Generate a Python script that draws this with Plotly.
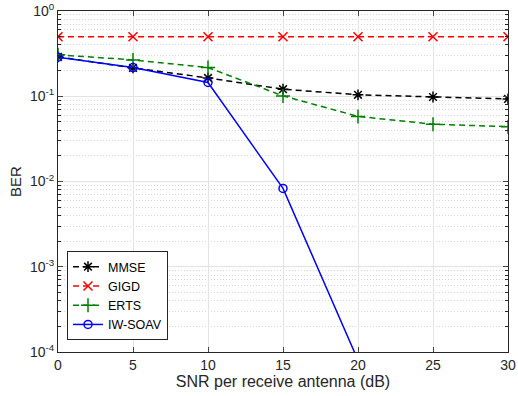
import plotly.graph_objects as go

snr = [0, 5, 10, 15, 20, 25, 30]
mmse = [0.29, 0.215, 0.164, 0.121, 0.104, 0.098, 0.093]
gigd = [0.5, 0.5, 0.5, 0.5, 0.5, 0.5, 0.5]
erts = [0.306, 0.267, 0.217, 0.101, 0.058, 0.047, 0.044]
iwsoav_x = [0, 5, 10, 15, 20]
iwsoav = [0.287, 0.217, 0.145, 0.0083, 8e-5]

ytick_vals = [1e-4, 1e-3, 1e-2, 1e-1, 1]
ytick_text = ["10<sup>-4</sup>", "10<sup>-3</sup>", "10<sup>-2</sup>", "10<sup>-1</sup>", "10<sup>0</sup>"]
xtick_vals = [0, 5, 10, 15, 20, 25, 30]
minor_y = [k * 10.0 ** e for e in range(-4, 0) for k in range(2, 10)]

fig = go.Figure()
fig.add_trace(go.Scatter(x=snr, y=mmse, name="MMSE", mode="lines+markers",
                         line=dict(color="black", width=1.5, dash="6px,4px"),
                         marker=dict(symbol="asterisk-open", size=9, line=dict(color="black", width=1.5))))
fig.add_trace(go.Scatter(x=snr, y=gigd, name="GIGD", mode="lines+markers",
                         line=dict(color="#ff0000", width=1.5, dash="6px,4px"),
                         marker=dict(symbol="x-thin-open", size=9, line=dict(color="#ff0000", width=1.5))))
fig.add_trace(go.Scatter(x=snr, y=erts, name="ERTS", mode="lines+markers",
                         line=dict(color="#008000", width=1.5, dash="6px,4px"),
                         marker=dict(symbol="cross-thin-open", size=10, line=dict(color="#008000", width=1.5))))
fig.add_trace(go.Scatter(x=iwsoav_x, y=iwsoav, name="IW-SOAV", mode="lines+markers",
                         line=dict(color="#0000ff", width=1.5),
                         marker=dict(symbol="circle-open", size=8, line=dict(color="#0000ff", width=1.5))))

axis_font = dict(family="Liberation Sans, Arial, sans-serif", size=14, color="#262626")

fig.update_layout(
    width=518, height=396,
    margin=dict(l=58, r=10, t=11, b=44, autoexpand=False),
    paper_bgcolor="white", plot_bgcolor="white",
    font=axis_font,
    showlegend=True,
    legend=dict(x=0.02, y=0.035, xanchor="left", yanchor="bottom",
                bgcolor="white", bordercolor="#262626", borderwidth=1,
                font=dict(family="Liberation Sans, Arial, sans-serif", size=12.5, color="black"),
                tracegroupgap=0, itemwidth=30),
    xaxis=dict(range=[0, 30], tickvals=xtick_vals, ticks="inside", ticklen=5,
               showline=True, mirror="ticks", linecolor="#262626", linewidth=1,
               showgrid=True, gridcolor="#e3e3e3", gridwidth=1, zeroline=False, automargin=False,
               title=dict(text="SNR per receive antenna (dB)", standoff=3, font=dict(size=16))),
    yaxis=dict(type="log", range=[-4, 0], tickvals=ytick_vals, ticktext=ytick_text,
               ticks="inside", ticklen=5, automargin=False,
               showline=True, mirror="ticks", linecolor="#262626", linewidth=1,
               showgrid=True, gridcolor="#e3e3e3", gridwidth=1, zeroline=False,
               minor=dict(tickmode="array", tickvals=minor_y, ticks="inside", ticklen=3,
                          tickcolor="#262626", showgrid=True, gridcolor="#d6d6d6", griddash="1px,2px"),
               title=dict(text="BER", standoff=4, font=dict(size=15))),
)

fig.write_html("out.html", config={"displayModeBar": False},
               post_script="document.body.style.margin='0';document.body.style.overflow='hidden';")
